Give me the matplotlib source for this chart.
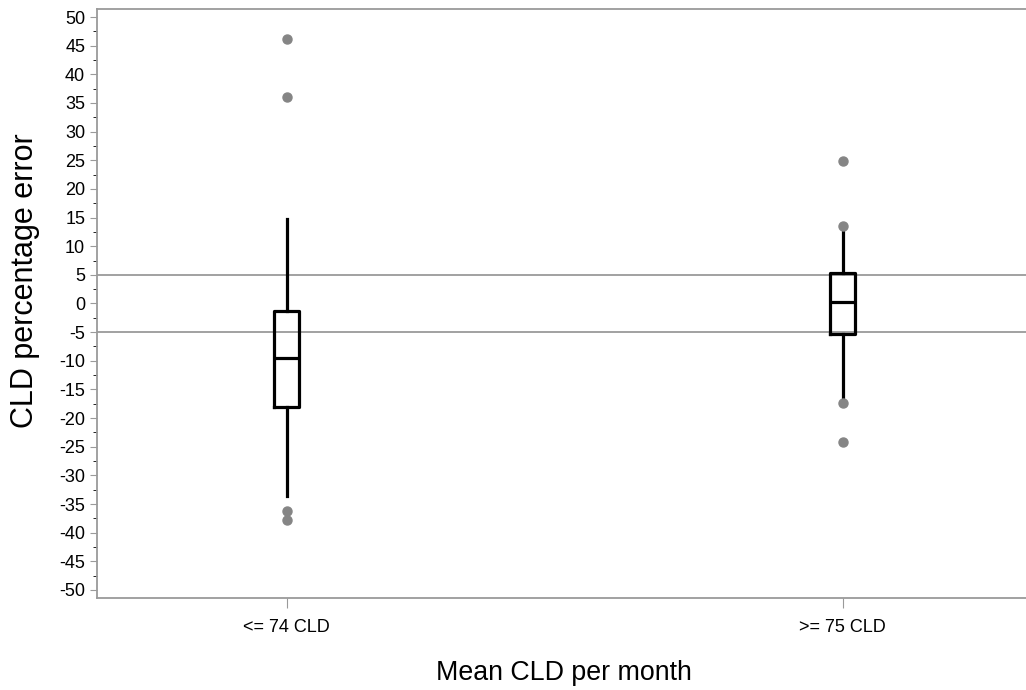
import matplotlib
matplotlib.use("Agg")
import matplotlib.pyplot as plt
from matplotlib.ticker import MultipleLocator

plt.rcParams['font.family'] = ['Liberation Sans', 'DejaVu Sans']
plt.rcParams['axes.unicode_minus'] = False

# values
groups = ["<= 74 CLD", ">= 75 CLD"]
q1 = [-18.0, -5.4]
med = [-9.6, 0.3]
q3 = [-1.3, 5.4]
whislo = [-33.6, -16.6]
whishi = [14.7, 12.4]
fliers = [[46.2, 36.1, -36.2, -37.8], [24.9, 13.6, -17.3, -24.2]]
ref_lines = [5, -5]

stats = []
for i in range(len(groups)):
    stats.append(dict(label=groups[i], q1=q1[i], med=med[i], q3=q3[i],
                      whislo=whislo[i], whishi=whishi[i], fliers=fliers[i]))

fig = plt.figure(figsize=(10.26, 6.9), dpi=100)
ax = fig.add_axes([97/1026, 1 - 597.7/690, 1 - 97/1026, (597.7 - 9)/690])

for y in ref_lines:
    ax.axhline(y, color='#9a9a9a', lw=1.3, zorder=1)

box_kw = dict(color='black', linewidth=2.3)
ax.bxp(stats, positions=range(len(groups)), widths=0.045,
       showcaps=False, patch_artist=False,
       boxprops=box_kw, whiskerprops=box_kw, medianprops=box_kw,
       flierprops=dict(marker='o', markerfacecolor='#858585',
                       markeredgecolor='#858585', markersize=6.5),
       zorder=3)

ax.set_xlim(-0.341, 1.33)
ax.set_ylim(-51.35, 51.4)
ax.yaxis.set_major_locator(MultipleLocator(5))
ax.yaxis.set_minor_locator(MultipleLocator(2.5))
ax.set_xticks(range(len(groups)))
ax.set_xticklabels(groups)

for side in ['left', 'bottom', 'top']:
    ax.spines[side].set_color('#9a9a9a')
    ax.spines[side].set_linewidth(1.3)
ax.spines['right'].set_visible(False)
ax.tick_params(colors='#9a9a9a', labelcolor='black', labelsize=13)
ax.tick_params(axis='y', which='major', length=5)
ax.tick_params(axis='y', which='minor', length=3)
ax.tick_params(axis='x', length=7, pad=8)

ax.set_ylabel("CLD percentage error", fontsize=22, va='baseline')
ax.yaxis.set_label_coords(-0.0689, 0.538)
ax.set_xlabel("Mean CLD per month", fontsize=19.3, va='baseline')
ax.xaxis.set_label_coords(0.503, -0.14)

fig.savefig("out.png", dpi=100)
